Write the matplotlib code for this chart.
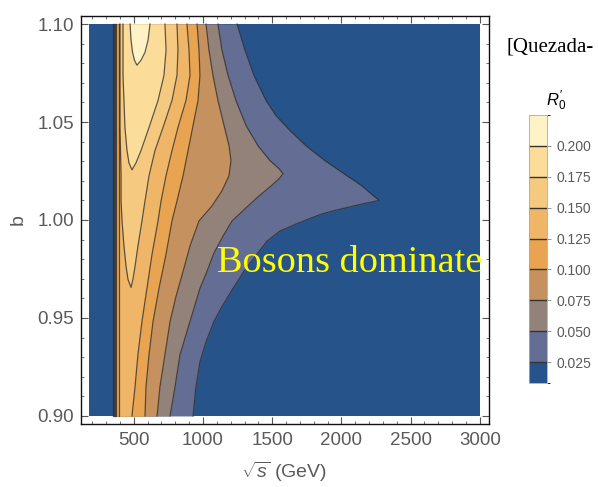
import matplotlib
matplotlib.use('Agg')
import matplotlib as mpl
import matplotlib.pyplot as plt
from matplotlib.colors import ListedColormap, BoundaryNorm
from matplotlib.ticker import MultipleLocator

plt.rcParams['font.family'] = ['Liberation Sans', 'DejaVu Sans']
plt.rcParams['mathtext.fontset'] = 'custom'
plt.rcParams['mathtext.rm'] = 'Liberation Sans'
plt.rcParams['mathtext.it'] = 'Liberation Sans:italic'

# plotted area
x_min, x_max = 180, 3000
b_min, b_max = 0.90, 1.10

levels = [0.025, 0.05, 0.075, 0.1, 0.125, 0.15, 0.175, 0.2]
band_colors = ['#26548A', '#646E94', '#93827A', '#C5925F', '#E8A450',
               '#F0B668', '#F6C981', '#FBDC98', '#FFF3C6']
cbar_bounds = [0.008] + levels + [0.225]

# contour R0' = 0.025 (steep wall on the left, cusp on the right)
b_025 = [1.1000, 1.0867, 1.0738, 1.0610, 1.0533, 1.0456, 1.0379, 1.0303,
         1.0226, 1.0174, 1.0138, 1.0113, 1.0100, 1.0092, 1.0082, 1.0067,
         1.0049, 1.0031, 1.0010, 0.9979, 0.9944, 0.9892, 0.9826, 0.9738,
         0.9651, 0.9559, 0.9482, 0.9379, 0.9277, 0.9149, 0.9000]
right_025 = [1246, 1303, 1368, 1455, 1527, 1629, 1744, 1881,
             2040, 2149, 2207, 2250, 2272, 2221, 2149, 2062,
             1954, 1860, 1780, 1672, 1556, 1462, 1390, 1296,
             1217, 1137, 1079, 1022, 978, 949, 928]
left_025 = [350] * len(b_025)

# contour 0.05
b_05 = [1.1000, 1.0867, 1.0738, 1.0610, 1.0482, 1.0379, 1.0303, 1.0262,
        1.0236, 1.0210, 1.0169, 1.0118, 1.0062, 0.9995, 0.9918, 0.9831,
        0.9738, 0.9651, 0.9482, 0.9313, 0.9149, 0.9000]
right_05 = [1108, 1137, 1181, 1238, 1311, 1397, 1484, 1549,
            1578, 1549, 1484, 1397, 1311, 1210, 1145, 1079,
            1029, 978, 906, 834, 798, 762]
left_05 = [357] * len(b_05)

# contour 0.075
b_075 = [1.1000, 1.0867, 1.0738, 1.0610, 1.0482, 1.0379, 1.0303, 1.0226,
         1.0149, 1.0072, 0.9995, 0.9867, 0.9738, 0.9610, 0.9482, 0.9313,
         0.9149, 0.9000]
right_075 = [1022, 1043, 1072, 1108, 1152, 1188, 1202, 1188,
             1137, 1065, 971, 906, 856, 805, 762, 725,
             689, 668]
left_075 = [364] * len(b_075)

# contour 0.1
b_1 = [1.1000, 1.0867, 1.0738, 1.0610, 1.0482, 1.0354, 1.0226, 1.0097,
       0.9995, 0.9826, 0.9651, 0.9482, 0.9313, 0.9149, 0.9000]
right_1 = [957, 971, 978, 964, 928, 892, 856, 812,
           776, 733, 682, 639, 610, 588, 581]
left_1 = [372] * len(b_1)

# contour 0.125
b_125 = [1.1000, 1.0867, 1.0738, 1.0610, 1.0472, 1.0354, 1.0226, 1.0097,
         0.9995, 0.9826, 0.9651, 0.9482, 0.9313, 0.9149, 0.9000]
right_125 = [884, 899, 906, 877, 819, 776, 733, 697,
             675, 632, 595, 559, 530, 509, 487]
left_125 = [393] * len(b_125)

# contour 0.15 (tongue ending near b = 0.966)
b_15 = [1.1000, 1.0867, 1.0738, 1.0610, 1.0472, 1.0354, 1.0226, 1.0097,
        0.9995, 0.9867, 0.9764, 0.9697, 0.9656]
right_15 = [812, 819, 812, 776, 711, 653, 610, 581, 559, 530, 509, 494, 480]
left_15 = [400, 400, 400, 400, 400, 404, 408, 408, 415, 429, 444, 458, 480]

# contour 0.175 (tongue ending near b = 1.026)
b_175 = [1.1000, 1.0867, 1.0738, 1.0610, 1.0472, 1.0354, 1.0292, 1.0256]
right_175 = [725, 733, 718, 675, 610, 552, 516, 487]
left_175 = [422, 422, 422, 429, 436, 451, 465, 487]

# contour 0.2 (small island at the top)
b_2 = [1.1000, 1.0918, 1.0856, 1.0815, 1.0790]
right_2 = [617, 603, 581, 552, 523]
left_2 = [473, 480, 491, 505, 523]

contours = [(b_025, left_025, right_025, False),
            (b_05, left_05, right_05, False),
            (b_075, left_075, right_075, False),
            (b_1, left_1, right_1, False),
            (b_125, left_125, right_125, False),
            (b_15, left_15, right_15, True),
            (b_175, left_175, right_175, True),
            (b_2, left_2, right_2, True)]

fig = plt.figure(figsize=(5.98, 4.87), dpi=100)
ax = fig.add_axes([81/598, 1 - 424/487, 408/598, 408/487])

ax.fill_betweenx([b_min, b_max], x_min, x_max, color=band_colors[0], lw=0)
for i, (bb, xl, xr, closed) in enumerate(contours):
    ax.fill_betweenx(bb, xl, xr, color=band_colors[i + 1], lw=0)

line_kw = dict(color='#2a2a2a', lw=0.9, alpha=0.75, solid_joinstyle='round')
for bb, xl, xr, closed in contours:
    if closed:
        ax.plot(list(xl) + list(xr[::-1]), list(bb) + list(bb[::-1]), **line_kw)
    else:
        ax.plot(xl, bb, **line_kw)
        ax.plot(xr, bb, **line_kw)

ax.text(1101, 0.978, 'Bosons dominate', color='#FFFF00', fontsize=27.5,
        family=['Liberation Serif', 'DejaVu Serif'], ha='left', va='center')

ax.set_xlim(118.6, 3066)
ax.set_ylim(0.8959, 1.1041)
ax.set_xticks([500, 1000, 1500, 2000, 2500, 3000])
ax.set_yticks([0.90, 0.95, 1.00, 1.05, 1.10])
ax.set_yticklabels(['0.90', '0.95', '1.00', '1.05', '1.10'])
ax.xaxis.set_minor_locator(MultipleLocator(100))
ax.yaxis.set_minor_locator(MultipleLocator(0.01))
ax.tick_params(which='both', direction='in', top=True, right=True,
               color='#555555', labelcolor='#5a5a5a', labelsize=13.5)
ax.tick_params(which='major', length=5, width=0.8)
ax.tick_params(which='minor', length=2.5, width=0.6)
ax.tick_params(axis='x', pad=6)
ax.tick_params(axis='y', pad=5)
for sp in ax.spines.values():
    sp.set_color('#111111')
    sp.set_linewidth(1.0)

ax.set_xlabel(r'$\sqrt{s}$ (GeV)', fontsize=14, color='#5a5a5a', va='center')
ax.xaxis.set_label_coords(0.4975, -0.118)
ax.set_ylabel('b', fontsize=14, color='#5a5a5a', va='center', ha='center')
ax.yaxis.set_label_coords(-0.154, 0.5)

# legend bar
cax = fig.add_axes([529/598, 1 - 383/487, 18/598, 268/487])
cmap = ListedColormap(band_colors)
norm = BoundaryNorm(cbar_bounds, cmap.N)
cb = mpl.colorbar.ColorbarBase(cax, cmap=cmap, norm=norm, boundaries=cbar_bounds,
                               ticks=levels, spacing='proportional', drawedges=True)
cb.set_ticklabels(['%.3f' % v for v in levels])
cb.outline.set_edgecolor('#aaaaaa')
cb.outline.set_linewidth(0.6)
cb.dividers.set_color('#333333')
cb.dividers.set_linewidth(1.0)
cax.tick_params(length=3, width=0.6, color='#888888', labelsize=10,
                labelcolor='#5a5a5a', pad=4)

fig.text(556/598, 1 - 101/487, r"$R_0'$", fontsize=12, ha='center', va='center')
fig.text(506/598, 1 - 47/487, '[Quezada-', fontsize=15, ha='left', va='center',
         family=['Liberation Serif', 'DejaVu Serif'])

fig.savefig('out.png', dpi=100)
